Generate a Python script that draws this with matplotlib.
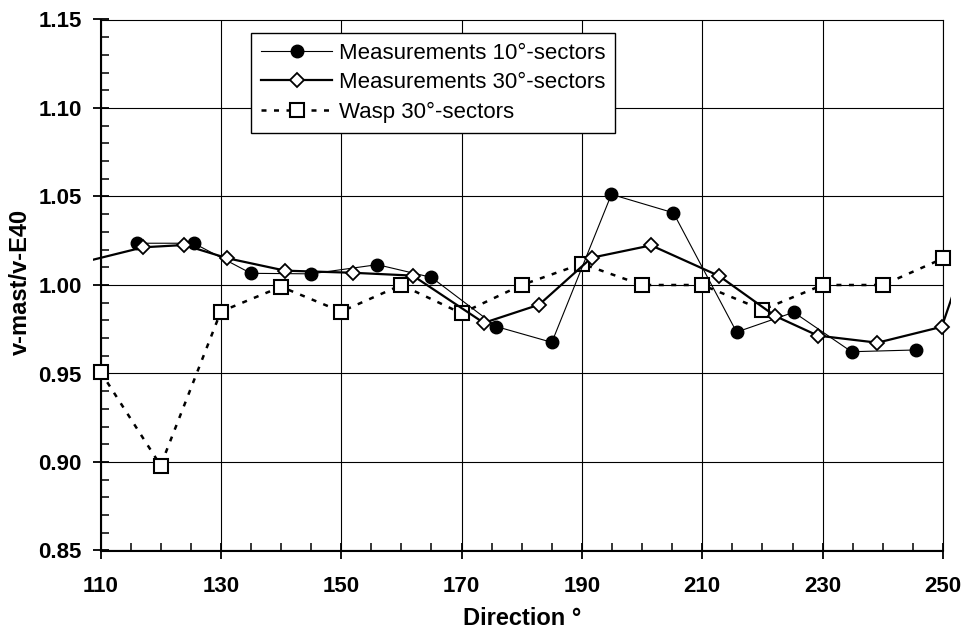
import matplotlib
matplotlib.use("Agg")
import matplotlib.pyplot as plt
from matplotlib.patches import Rectangle
from matplotlib.ticker import MultipleLocator, FormatStrFormatter

plt.rcParams["font.family"] = ["Liberation Sans", "DejaVu Sans"]

# measurements, 10 degree sectors
dir_10 = [116, 125.5, 135, 145, 156, 165, 175.8, 185, 194.9, 205.2, 215.7, 225.2, 234.8, 245.5]
ratio_10 = [1.0236, 1.0236, 1.0066, 1.0063, 1.0115, 1.0043, 0.9765, 0.9676, 1.0512,
            1.0408, 0.9734, 0.9846, 0.9623, 0.9633]

# measurements, 30 degree sectors (first and last point lie outside the axis range)
dir_30 = [107, 117.1, 123.9, 131.1, 140.7, 152, 161.9, 173.7, 182.9, 191.6, 201.5,
          212.8, 222.1, 229.2, 239.1, 249.8, 259]
ratio_30 = [1.0128, 1.0213, 1.0226, 1.0151, 1.0081, 1.0069, 1.0053, 0.9786, 0.9889,
            1.0154, 1.0224, 1.0051, 0.9825, 0.9714, 0.9674, 0.9764, 1.068]

# Wasp model, 30 degree sectors
dir_wasp = [110, 120, 130, 140, 150, 160, 170, 180, 190, 200, 210, 220, 230, 240, 250]
ratio_wasp = [0.951, 0.898, 0.985, 0.999, 0.985, 1.000, 0.984, 1.000, 1.012, 1.000,
              1.000, 0.986, 1.000, 1.000, 1.015]

x_ticks = [110, 130, 150, 170, 190, 210, 230, 250]

fig = plt.figure(figsize=(9.73, 6.3), dpi=100)
ax = fig.add_axes([100.5 / 973, 1 - 550.5 / 630, 842.5 / 973, 531 / 630])

l10, = ax.plot(dir_10, ratio_10, color="black", lw=0.8, marker="o", ms=9,
               mfc="black", mec="black", label="Measurements 10°-sectors", zorder=4)
l30, = ax.plot(dir_30, ratio_30, color="black", lw=1.6, marker="D", ms=7,
               mfc="white", mec="black", mew=1.3, label="Measurements 30°-sectors", zorder=5)
lw_, = ax.plot(dir_wasp, ratio_wasp, color="black", lw=1.8, ls=(0, (2, 3)), marker="s",
               ms=10, mfc="white", mec="black", mew=1.5, label="Wasp 30°-sectors",
               zorder=3, clip_on=False)

ax.set_xlim(110, 250)
ax.set_ylim(0.85, 1.15)

# the 30-degree line runs a little past the axis limits, as in the source chart
clip = Rectangle((108.7, 0.85), 251.4 - 108.7, 0.30, transform=ax.transData)
l30.set_clip_path(clip)

ax.set_xticks(x_ticks)
ax.xaxis.set_minor_locator(MultipleLocator(5))
ax.yaxis.set_major_locator(MultipleLocator(0.05))
ax.yaxis.set_minor_locator(MultipleLocator(0.01))
ax.yaxis.set_major_formatter(FormatStrFormatter("%.2f"))

ax.grid(True, which="major", color="black", lw=0.8)
ax.set_axisbelow(True)

for side in ["top", "right"]:
    ax.spines[side].set_linewidth(0.8)
for side in ["left", "bottom"]:
    ax.spines[side].set_linewidth(1.5)

ax.tick_params(which="major", direction="inout", length=11, width=1.3, labelsize=16)
ax.tick_params(which="minor", direction="in", length=6, width=1.1)
ax.tick_params(axis="x", which="major", pad=13)
ax.tick_params(axis="y", which="major", pad=8)
ax.tick_params(which="both", top=False, right=False)
for lab in ax.get_xticklabels() + ax.get_yticklabels():
    lab.set_fontweight("bold")

ax.set_xlabel("Direction °", fontsize=17, fontweight="bold")
ax.set_ylabel("v-mast/v-E40", fontsize=17, fontweight="bold")
ax.xaxis.set_label_coords(0.5, -0.107)
ax.yaxis.set_label_coords(-0.0813, 0.505)

leg = ax.legend(handles=[l10, l30, lw_], loc="upper left",
                bbox_to_anchor=((251 - 100.5) / 842.5, (550.5 - 33) / 531),
                fontsize=16, numpoints=1, handlelength=3.2, handletextpad=0.3,
                borderpad=0.45, labelspacing=0.37, borderaxespad=0, fancybox=False,
                framealpha=1, edgecolor="black")
leg.get_frame().set_linewidth(1.0)
leg.set_zorder(10)

fig.savefig("out.png", dpi=100)
